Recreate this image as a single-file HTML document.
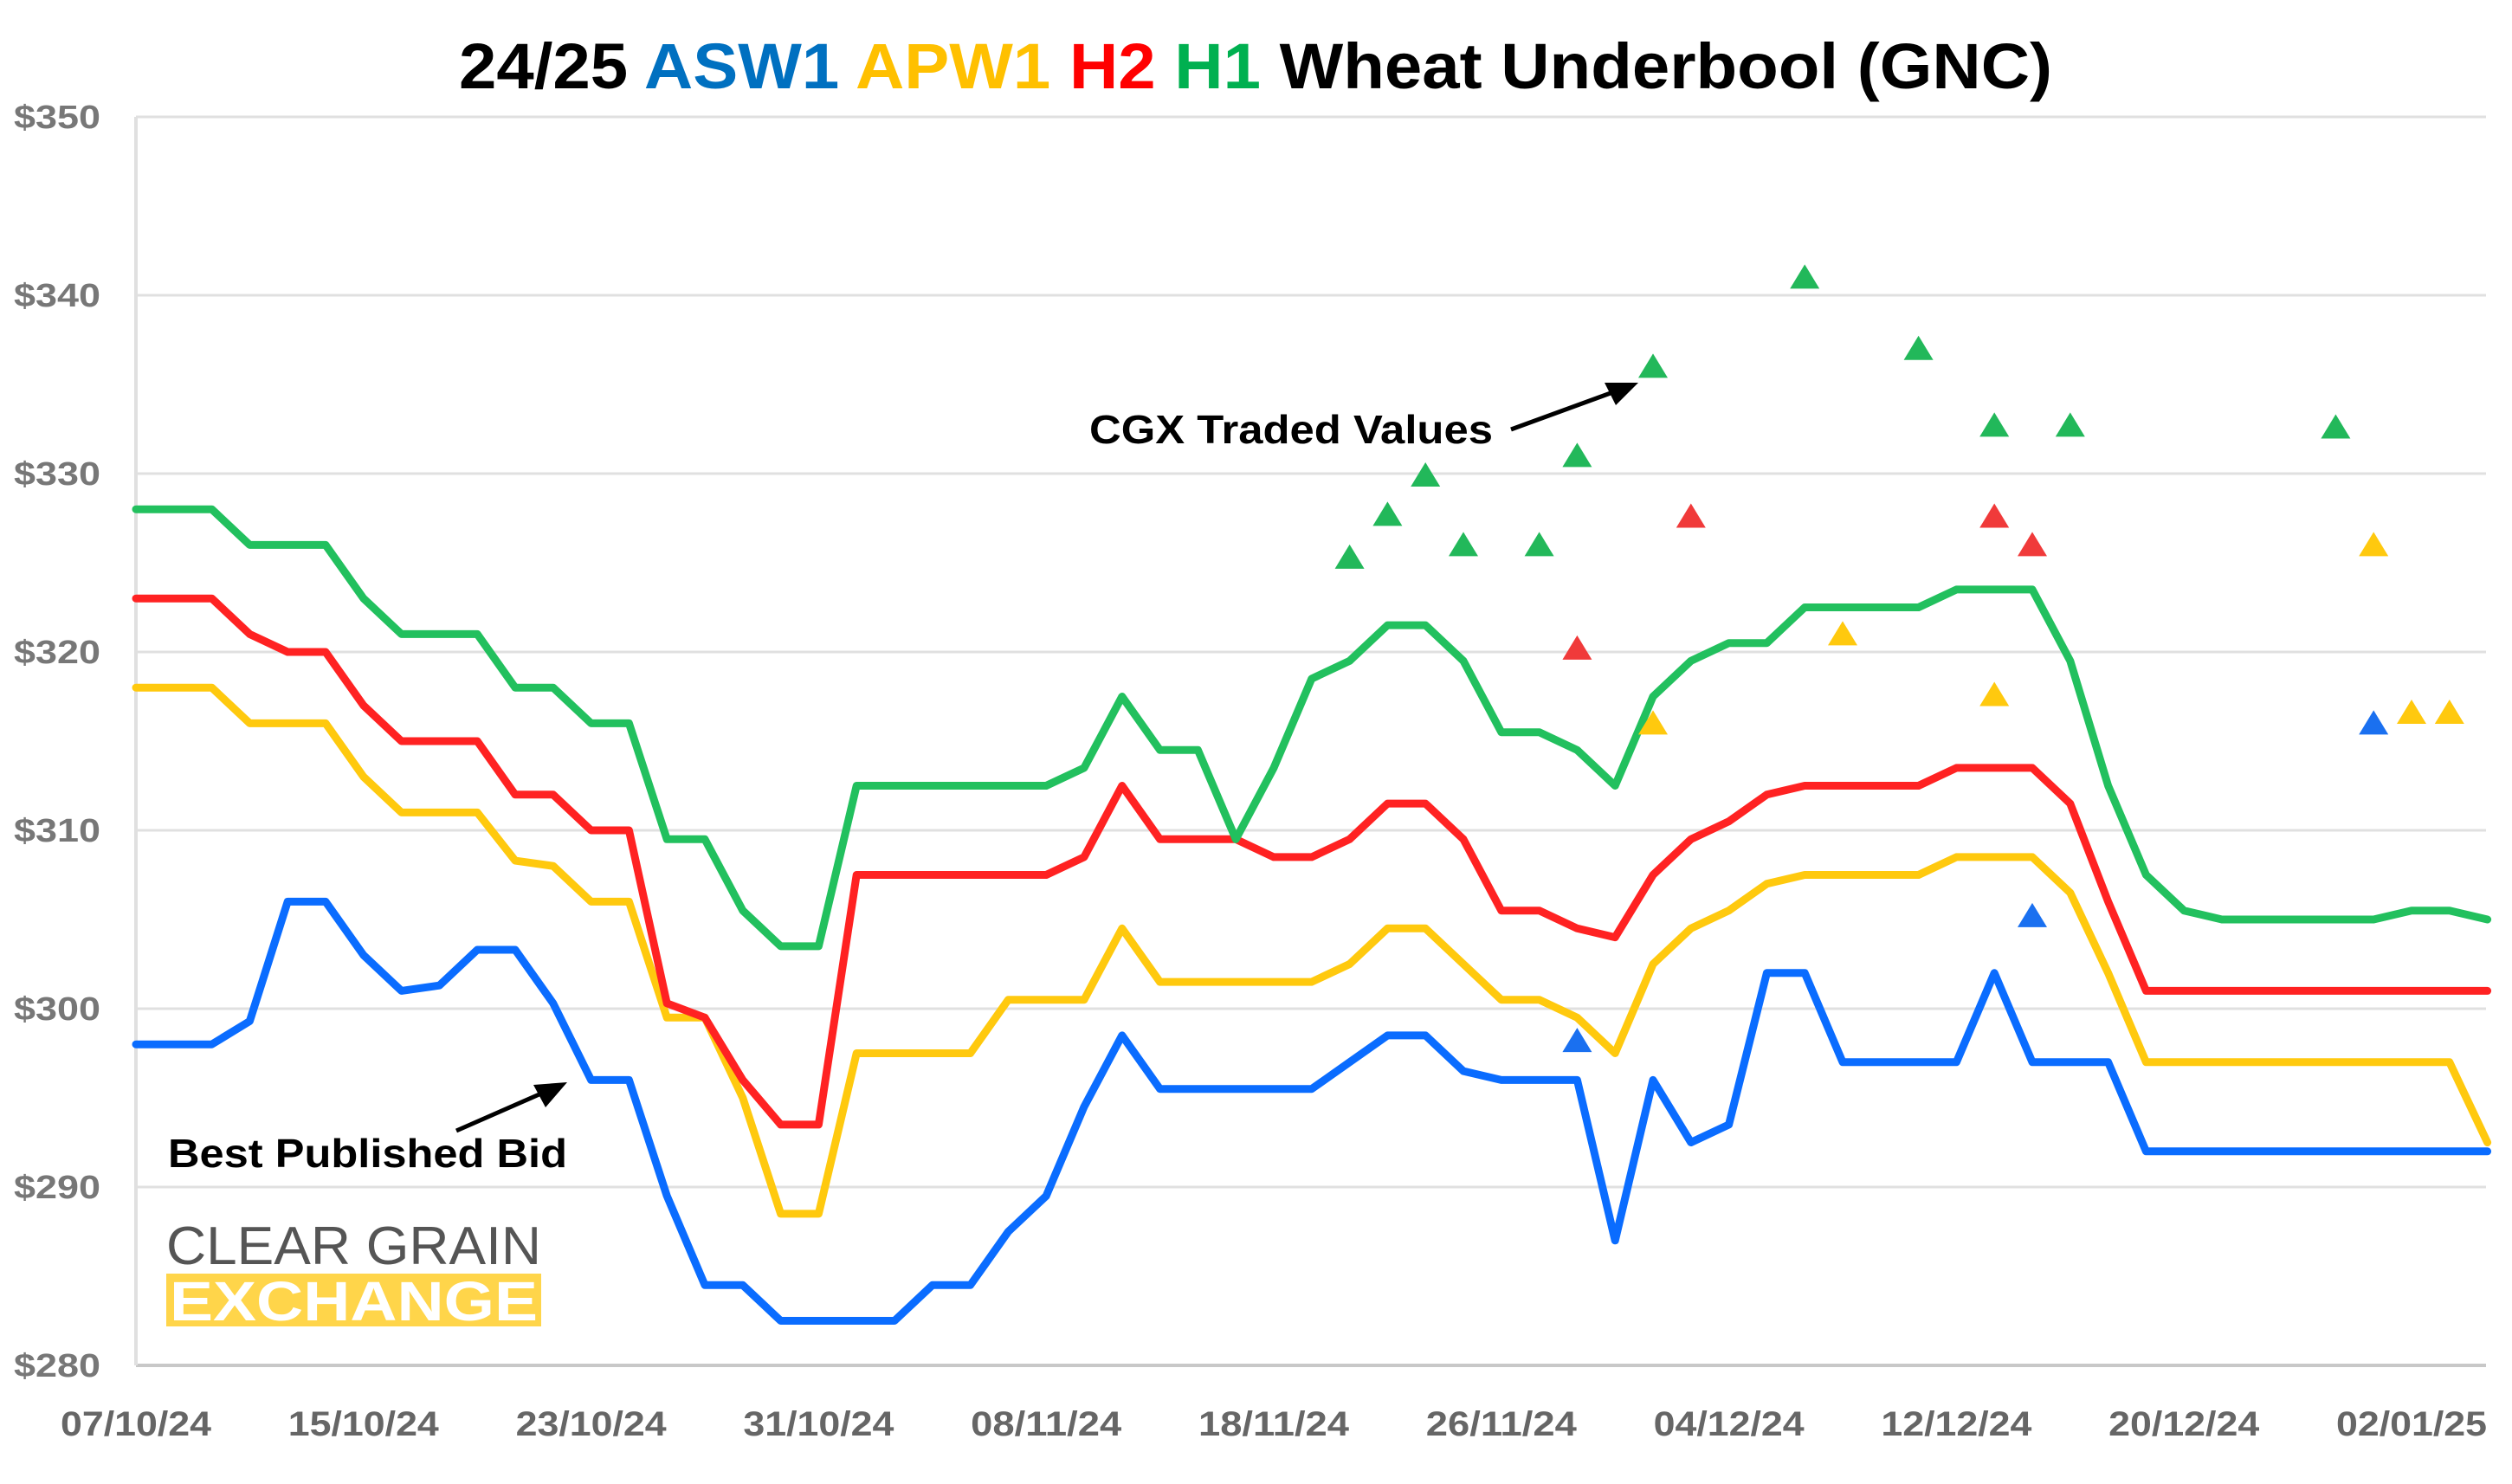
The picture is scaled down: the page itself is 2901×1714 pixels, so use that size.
<!DOCTYPE html>
<html><head><meta charset="utf-8"><style>
html,body{margin:0;padding:0;background:#fff;}
svg{display:block;font-family:"Liberation Sans",sans-serif;}
</style></head><body>
<svg id="chart" width="2901" height="1714" viewBox="0 0 2901 1714">
<text x="1450" y="102" text-anchor="middle" font-size="74" font-weight="bold" textLength="1840" lengthAdjust="spacingAndGlyphs"><tspan fill="#000">24/25 </tspan><tspan fill="#0070c0">ASW1 </tspan><tspan fill="#ffc000">APW1 </tspan><tspan fill="#ff0000">H2 </tspan><tspan fill="#00b050">H1 </tspan><tspan fill="#000">Wheat Underbool (GNC)</tspan></text>
<g id="grid"></g>
<g id="yticks"></g>
<g id="xticks"></g>
<g>
<text x="192" y="1460" font-size="62" fill="#555" textLength="433" lengthAdjust="spacingAndGlyphs">CLEAR GRAIN</text>
<rect x="192" y="1471" width="433" height="61" fill="#ffd54a"></rect>
<text x="196" y="1525" font-size="64" font-weight="bold" fill="#fff" textLength="425" lengthAdjust="spacingAndGlyphs">EXCHANGE</text>
</g>
<g id="lines"></g>
<g id="marks"></g>
<g>
<text x="1258" y="512" font-size="46" font-weight="bold" fill="#000" textLength="466" lengthAdjust="spacingAndGlyphs">CGX Traded Values</text>
<line x1="1745" y1="496" x2="1860" y2="454" stroke="#000" stroke-width="5"></line>
<polygon points="1892,442 1853,442 1866,468" fill="#000"></polygon>
<text x="194" y="1348" font-size="46" font-weight="bold" fill="#000" textLength="461" lengthAdjust="spacingAndGlyphs">Best Published Bid</text>
<line x1="527" y1="1306" x2="625" y2="1263" stroke="#000" stroke-width="5"></line>
<polygon points="655,1250 616,1253 630,1279" fill="#000"></polygon>
</g>
</svg>
<script>
const yTicks = [280,290,300,310,320,330,340,350];
const xLabels = ["07/10/24","15/10/24","23/10/24","31/10/24","08/11/24","18/11/24","26/11/24","04/12/24","12/12/24","20/12/24","02/01/25"];
const h1 = [328,328,328,326,326,326,323,321,321,321,318,318,316,316,309.5,309.5,305.5,303.5,303.5,312.5,312.5,312.5,312.5,312.5,312.5,313.5,317.5,314.5,314.5,309.5,313.5,318.5,319.5,321.5,321.5,319.5,315.5,315.5,314.5,312.5,317.5,319.5,320.5,320.5,322.5,322.5,322.5,322.5,323.5,323.5,323.5,319.5,312.5,307.5,305.5,305,305,305,305,305,305.5,305.5,305];
const h2 = [323,323,323,321,320,320,317,315,315,315,312,312,310,310,300.3,299.5,296,293.5,293.5,307.5,307.5,307.5,307.5,307.5,307.5,308.5,312.5,309.5,309.5,309.5,308.5,308.5,309.5,311.5,311.5,309.5,305.5,305.5,304.5,304,307.5,309.5,310.5,312,312.5,312.5,312.5,312.5,313.5,313.5,313.5,311.5,306,301,301,301,301,301,301,301,301,301,301];
const apw1 = [318,318,318,316,316,316,313,311,311,311,308.3,308,306,306,299.5,299.5,295,288.5,288.5,297.5,297.5,297.5,297.5,300.5,300.5,300.5,304.5,301.5,301.5,301.5,301.5,301.5,302.5,304.5,304.5,302.5,300.5,300.5,299.5,297.5,302.5,304.5,305.5,307,307.5,307.5,307.5,307.5,308.5,308.5,308.5,306.5,302,297,297,297,297,297,297,297,297,297,292.5];
const asw1 = [298,298,298,299.3,306,306,303,301,301.3,303.3,303.3,300.3,296,296,289.5,284.5,284.5,282.5,282.5,282.5,282.5,284.5,284.5,287.5,289.5,294.5,298.5,295.5,295.5,295.5,295.5,295.5,297,298.5,298.5,296.5,296,296,296,287,296,292.5,293.5,302,302,297,297,297,297,302,297,297,297,292,292,292,292,292,292,292,292,292,292];
const h1TradeIdx = [32,33,34,35,37,38,40,44,47,49,51,58];
const h1TradeVal = [325.3,327.7,329.9,326,326,331,336,341,337,332.7,332.7,332.6];
const h2TradeIdx = [38,41,49,50];
const h2TradeVal = [320.2,327.6,327.6,326];
const apw1TradeIdx = [40,45,49,59,60,61];
const apw1TradeVal = [316,321,317.6,326,316.6,316.6];
const asw1TradeIdx = [38,50,59];
const asw1TradeVal = [298.2,305.2,316];

const NS = "http://www.w3.org/2000/svg";
const X0 = 157, DX = 43.8, Y350 = 135, PPU = 20.6;
function xs(i){ return X0 + DX*i; }
function ys(v){ return Y350 + (350 - v)*PPU; }
function mk(tag, attrs, parent){ const e = document.createElementNS(NS, tag); for (const k in attrs) e.setAttribute(k, attrs[k]); parent.appendChild(e); return e; }

const grid = document.getElementById('grid');
const yt = document.getElementById('yticks');
yTicks.forEach(v => {
  const l = mk('line', {x1:157, x2:2871, y1:ys(v), y2:ys(v), stroke: v===280?'#c8c8c8':'#e0e0e0', 'stroke-width': v===280?4:3}, grid);
  
  
  const t = mk('text', {x:116, y:ys(v)+13, 'text-anchor':'end', 'font-size':38, fill:'#777', 'font-weight':'bold', textLength:100, lengthAdjust:'spacingAndGlyphs'}, yt);
  t.textContent = '$' + v;
  
  
});
const ax = mk('line', {x1:157, x2:157, y1:135, y2:1577, stroke:'#e0e0e0', 'stroke-width':4}, grid);



const xt = document.getElementById('xticks');
xLabels.forEach((s, k) => {
  const t = mk('text', {x:xs(k*6), y:1658, 'text-anchor':'middle', 'font-size':40, fill:'#666', 'font-weight':'bold', textLength:174, lengthAdjust:'spacingAndGlyphs'}, xt);
  t.textContent = s;
  
  
});

const lines = document.getElementById('lines');
[[asw1,'#0a6cff','asw1-line'],[apw1,'#ffc90e','apw1-line'],[h2,'#ff2222','h2-line'],[h1,'#22c05e','h1-line']].forEach(([d,c,n]) => {
  const p = mk('polyline', {points: d.map((v,i)=>xs(i)+','+ys(v)).join(' '), fill:'none', stroke:c, 'stroke-width':9, 'stroke-linejoin':'round', 'stroke-linecap':'round'}, lines);
  
  
});

const marks = document.getElementById('marks');
[[h1TradeIdx,h1TradeVal,'#22b85a','h1-trade'],[h2TradeIdx,h2TradeVal,'#f03a3a','h2-trade'],[apw1TradeIdx,apw1TradeVal,'#ffc90e','apw1-trade'],[asw1TradeIdx,asw1TradeVal,'#1a70f0','asw1-trade']].forEach(([ix,vals,c,n]) => {
  ix.forEach((i,k) => {
    const cx = xs(i), cy = ys(vals[k]);
    const t = mk('polygon', {points:(cx-17)+','+(cy+13)+' '+(cx+17)+','+(cy+13)+' '+cx+','+(cy-15), fill:c}, marks);
    
    
  });
});
</script>
</body></html>
